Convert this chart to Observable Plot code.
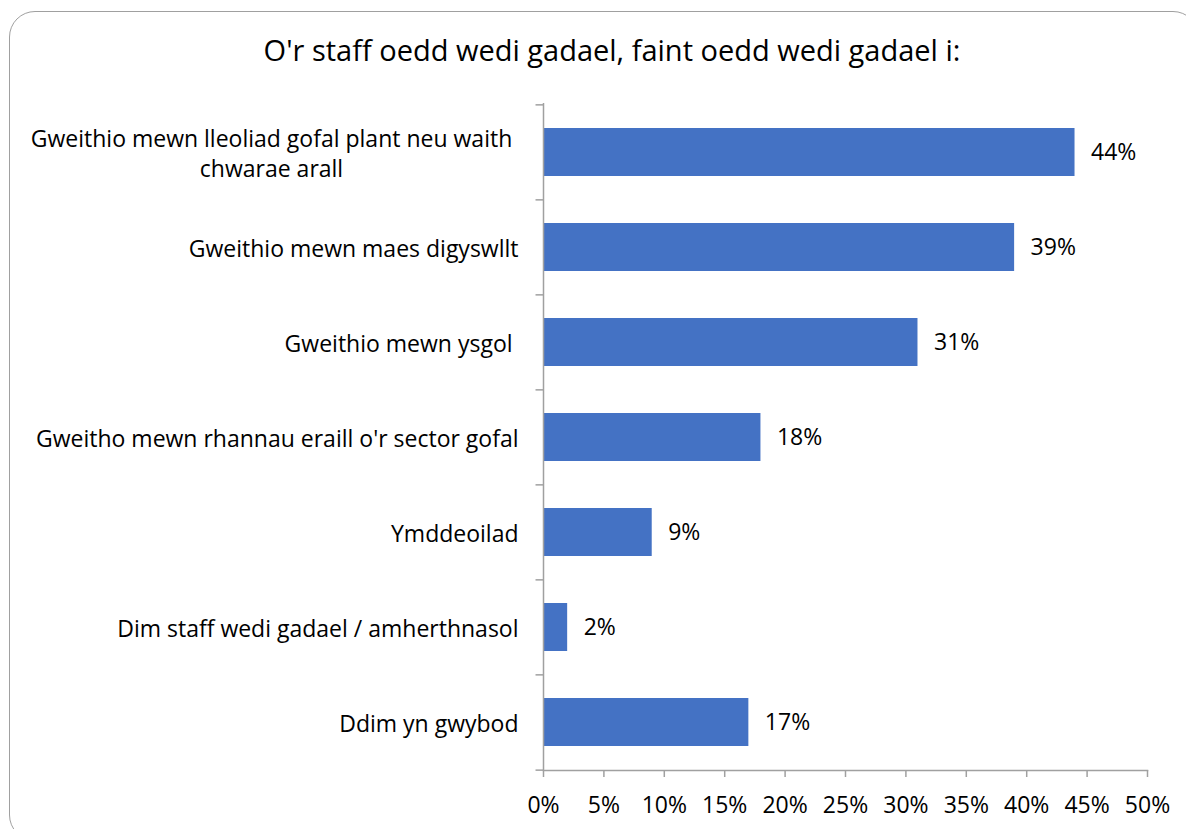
<!DOCTYPE html>
<html><head><meta charset="utf-8">
<script src="https://cdn.jsdelivr.net/npm/d3@7"></script>
<script src="https://cdn.jsdelivr.net/npm/@observablehq/plot@0.6"></script>
<style>
body{margin:0;background:#fff;overflow:hidden;}
#wrap{position:relative;width:1186px;height:829px;overflow:hidden;}
#frame{position:absolute;left:9px;top:11px;width:1190px;height:830px;border:1.5px solid #a0a0a0;border-radius:26px;box-sizing:border-box;}
#title{position:absolute;left:0;width:1224px;top:30px;text-align:center;font-family:"Open Sans";font-size:29px;color:#000;line-height:40px;}
#chart{position:absolute;left:0;top:0;}
</style></head><body>
<div id="wrap"><div id="frame"></div><div id="chart"></div><div id="title"></div></div>
<script>
const titleText = "O'r staff oedd wedi gadael, faint oedd wedi gadael i:";
const categories = [
  "Gweithio mewn lleoliad gofal plant neu waith\nchwarae arall",
  "Gweithio mewn maes digyswllt",
  "Gweithio mewn ysgol ",
  "Gweitho mewn rhannau eraill o'r sector gofal",
  "Ymddeoilad",
  "Dim staff wedi gadael / amherthnasol",
  "Ddim yn gwybod"
];
const values = [44, 39, 31, 18, 9, 2, 17];
const xTicks = [0, 5, 10, 15, 20, 25, 30, 35, 40, 45, 50];

document.getElementById("title").textContent = titleText;

const data = categories.map((c, i) => ({cat: c, value: values[i]}));
const W = 1186, H = 829, mT = 103, mB = 59, mL = 543, mR = 39;
const step = (H - mT - mB) / categories.length;
const axisColor = "#a0a0a0";
const fs = 23;

const chart = Plot.plot({
  width: W, height: H,
  marginLeft: mL, marginRight: mR, marginTop: mT, marginBottom: mB,
  style: {fontFamily: "Open Sans", fontSize: fs + "px", color: "#000", background: "transparent", overflow: "visible"},
  x: {domain: [0, 50], ticks: xTicks, tickFormat: d => d + "%"},
  y: {domain: categories, paddingInner: 0.5, paddingOuter: 0.25, axis: null},
  marks: [
    Plot.barX(data, {x: "value", y: "cat", fill: "#4472C4"}),
    Plot.ruleX([0], {stroke: axisColor, strokeWidth: 1.5}),
    Plot.ruleY(categories, {y: d => d, x1: -0.62, x2: 0, dy: -step / 2, stroke: axisColor, strokeWidth: 1.5}),
    Plot.ruleY(categories.slice(-1), {y: d => d, x1: -0.62, x2: 0, dy: step / 2, stroke: axisColor, strokeWidth: 1.5}),
    Plot.frame({anchor: "bottom", stroke: axisColor, strokeWidth: 1.5}),
    Plot.axisX({ticks: xTicks, tickFormat: d => d + "%", tickSize: 7, tickPadding: 19, stroke: axisColor, strokeWidth: 1.5, fontSize: fs, label: null}),
    Plot.text(data.filter(d => !d.cat.includes("\n")), {y: "cat", text: "cat", frameAnchor: "left", textAnchor: "end", dx: -25, fontSize: fs, lineHeight: 1.3}),
    Plot.text(data.filter(d => d.cat.includes("\n")), {y: "cat", text: "cat", frameAnchor: "left", textAnchor: "middle", dx: -272, fontSize: fs, lineHeight: 1.3}),
    Plot.text(data, {x: "value", y: "cat", text: d => d.value + "%", textAnchor: "start", dx: 16, fontSize: fs})
  ]
});
document.getElementById("chart").appendChild(chart);
</script>
</body></html>
